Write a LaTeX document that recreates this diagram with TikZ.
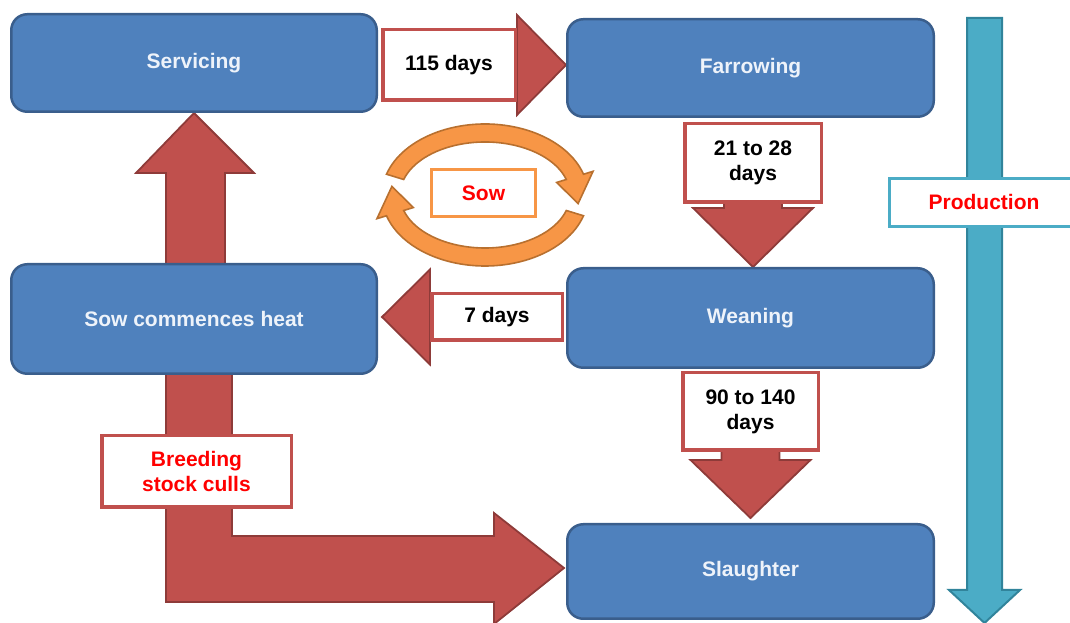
\documentclass[tikz,border=0pt]{standalone}
\usepackage{fontspec}
\setmainfont{Liberation Sans}
\usetikzlibrary{calc}
\definecolor{boxfill}{HTML}{4F81BD}
\definecolor{boxdraw}{HTML}{3A5E8C}
\definecolor{boxtext}{HTML}{EEF3FA}
\definecolor{redfill}{HTML}{C0504D}
\definecolor{reddraw}{HTML}{8E3B39}
\definecolor{orfill}{HTML}{F79646}
\definecolor{ordraw}{HTML}{B8702F}
\definecolor{tealfill}{HTML}{4BACC6}
\definecolor{tealdraw}{HTML}{31849B}
\definecolor{redtext}{HTML}{FF0000}
\pgfdeclarelayer{bg}
\pgfsetlayers{bg,main}
\begin{document}
\begin{tikzpicture}[x=1pt,y=1pt,
  txt/.style={font=\fontsize{21}{25}\selectfont\bfseries},
  bluebox/.style={txt, draw=boxdraw, line width=2.5pt, fill=boxfill, rounded corners=16pt, text=boxtext, inner sep=0pt},
  lbl/.style={txt, draw=redfill, line width=3.5pt, fill=white, align=center, inner sep=0pt},
  redhead/.style={fill=redfill, draw=reddraw, line width=1.8pt, line join=miter},
  cyc/.style={fill=orfill, draw=ordraw, line width=1.6pt, line join=miter},
  tealarrow/.style={fill=tealfill, draw=tealdraw, line width=2pt, line join=miter}]
\useasboundingbox (0,0) rectangle (1070,623);

% process boxes
\node[bluebox, minimum width=365.5pt, minimum height=97.5pt] (serv) at (194,560) {Servicing};
\node[bluebox, minimum width=366.5pt, minimum height=97.5pt] (farr) at (750.5,555) {Farrowing};
\node[bluebox, minimum width=365.5pt, minimum height=109.5pt] (heat) at (194,304) {Sow commences heat};
\node[bluebox, minimum width=366.5pt, minimum height=99.5pt] (wean) at (750.5,305) {Weaning};
\node[bluebox, minimum width=366.5pt, minimum height=94.5pt] (slau) at (750.5,51.5) {Slaughter};

% labels
\node[lbl, minimum width=132.5pt, minimum height=70.5pt] (d115) at (449,558) {115 days};
\node[lbl, minimum width=130.5pt, minimum height=46.5pt] (d7) at (497,306) {7 days};
\node[lbl, minimum width=136.5pt, minimum height=78.5pt] (d21) at (753,460) {21 to 28\\days};
\node[lbl, minimum width=135.5pt, minimum height=77.5pt] (d90) at (750.5,211.5) {90 to 140\\days};
\node[lbl, text=redtext, minimum width=189.5pt, minimum height=71.5pt] (breed) at (196.5,151.5) {Breeding\\stock culls};
\node[txt, draw=orfill, line width=3pt, fill=white, text=redtext, minimum width=104pt, minimum height=47pt, inner sep=0pt] (sow) at (483.5,430) {Sow};
\node[txt, draw=tealfill, line width=3pt, fill=white, text=redtext, minimum width=189pt, minimum height=48pt, inner sep=0pt] (prod) at (984,420.5) {Production};

% cycle arrows around Sow
\coordinate (C) at (485,428);
\filldraw[cyc] ($(C)+(163:103pt and 71pt)$) arc[start angle=163, end angle=17, x radius=103pt, y radius=71pt]
  -- ($(C)+(17:113pt and 81pt)$) -- ($(C)+(-8:94pt and 62pt)$) -- ($(C)+(17:75pt and 43pt)$)
  -- ($(C)+(17:85pt and 53pt)$) arc[start angle=17, end angle=163, x radius=85pt, y radius=53pt] -- cycle;
\filldraw[cyc] ($(C)+(-17:103pt and 71pt)$) arc[start angle=-17, end angle=-163, x radius=103pt, y radius=71pt]
  -- ($(C)+(-163:113pt and 81pt)$) -- ($(C)+(-188:94pt and 62pt)$) -- ($(C)+(-163:75pt and 43pt)$)
  -- ($(C)+(-163:85pt and 53pt)$) arc[start angle=-163, end angle=-17, x radius=85pt, y radius=53pt] -- cycle;

\begin{pgfonlayer}{bg}
% 115 days -> Farrowing
\filldraw[redhead] ($(d115.east)+(0,50)$) -- (d115.east -| farr.west) -- ($(d115.east)+(0,-50)$) -- cycle;
% 7 days -> Sow commences heat
\filldraw[redhead] ($(d7.west)+(0,47.5)$) -- ($(d7.west -| heat.east)+(4,0)$) -- ($(d7.west)+(0,-47.5)$) -- cycle;
% Farrowing -> Weaning
\filldraw[redhead] ($(d21.south)+(-29,3)$) -- ($(d21.south)+(-29,-4)$) -- ($(d21.south)+(-60,-4)$)
  -- (d21.south |- wean.north) -- ($(d21.south)+(60,-4)$) -- ($(d21.south)+(29,-4)$) -- ($(d21.south)+(29,3)$) -- cycle;
% Weaning -> Slaughter
\filldraw[redhead] ($(d90.south)+(-29,3)$) -- ($(d90.south)+(-29,-8)$) -- ($(d90.south)+(-60,-8)$)
  -- ($(d90.south |- slau.north)+(0,5)$) -- ($(d90.south)+(60,-8)$) -- ($(d90.south)+(29,-8)$) -- ($(d90.south)+(29,3)$) -- cycle;
% Sow commences heat -> Servicing
\filldraw[redhead] ($(heat.north)+(-28,-8)$) -- ($(heat.north)+(-28,90)$) -- ($(heat.north)+(-58,90)$)
  -- (serv.south) -- ($(heat.north)+(60,90)$) -- ($(heat.north)+(31,90)$) -- ($(heat.north)+(31,-8)$) -- cycle;
% Sow commences heat -> Slaughter (breeding stock culls)
\filldraw[redhead] ($(heat.south)+(-28,8)$) -- (166,21) -- (494,21) -- (494,-1)
  -- ($(slau.west)+(-2,3.5)$) -- (494,110) -- (494,87) -- (232,87) -- ($(heat.south)+(38,8)$) -- cycle;
% Production arrow
\filldraw[tealarrow] (967,605) -- (967,33) -- (949,33) -- (984.5,0) -- (1020,33) -- (1002,33) -- (1002,605) -- cycle;
\end{pgfonlayer}
\end{tikzpicture}
\end{document}
